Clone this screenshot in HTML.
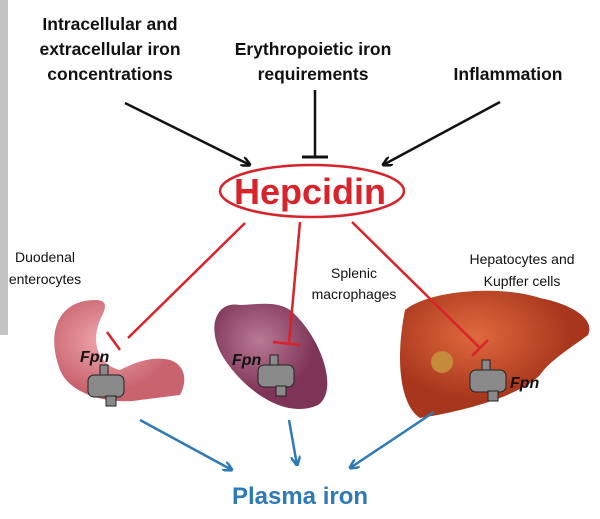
<!DOCTYPE html>
<html><head><style>
body{margin:0;background:#fff;}
svg{display:block;font-family:"Liberation Sans",Arial,sans-serif;}
</style></head><body>
<svg width="600" height="519" viewBox="0 0 600 519">
<defs>
<marker id="ab" markerWidth="10" markerHeight="10" refX="9" refY="5" orient="auto" markerUnits="userSpaceOnUse"><path d="M0,0 L10,5 L0,10" fill="none" stroke="#111" stroke-width="2.5"/></marker>
<marker id="ablue" markerWidth="10" markerHeight="10" refX="9" refY="5" orient="auto" markerUnits="userSpaceOnUse"><path d="M0,0 L10,5 L0,10" fill="none" stroke="#2f7ab5" stroke-width="2.5"/></marker>
<radialGradient id="gi" cx="40%" cy="40%"><stop offset="0" stop-color="#f1a9b0"/><stop offset="1" stop-color="#c9646f"/></radialGradient>
<radialGradient id="gs" cx="40%" cy="35%"><stop offset="0" stop-color="#b97a95"/><stop offset="1" stop-color="#7e3457"/></radialGradient>
<radialGradient id="gl" cx="40%" cy="35%"><stop offset="0" stop-color="#e06a3e"/><stop offset="1" stop-color="#a8361c"/></radialGradient>
</defs>
<rect x="0" y="0" width="8" height="335" fill="#c4c4c4"/>
<g font-weight="bold" font-size="17.5" fill="#111" text-anchor="middle">
<text x="110" y="30">Intracellular and</text>
<text x="110" y="55">extracellular iron</text>
<text x="110" y="80">concentrations</text>
<text x="313" y="55">Erythropoietic iron</text>
<text x="313" y="80">requirements</text>
<text x="508" y="80">Inflammation</text>
</g>
<line x1="125" y1="103" x2="250" y2="165" stroke="#111" stroke-width="2.5" marker-end="url(#ab)"/>
<line x1="315" y1="90" x2="315" y2="157" stroke="#111" stroke-width="2.5"/>
<line x1="302" y1="157" x2="328" y2="157" stroke="#111" stroke-width="3"/>
<line x1="500" y1="102" x2="383" y2="165" stroke="#111" stroke-width="2.5" marker-end="url(#ab)"/>
<ellipse cx="312" cy="191" rx="92" ry="26" fill="none" stroke="#d8232a" stroke-width="2.5"/>
<text x="310" y="204" font-size="36" font-weight="bold" fill="#d8232a" text-anchor="middle">Hepcidin</text>
<!-- organs -->
<path d="M95,300 C60,300 45,330 60,370 C70,395 110,405 140,400 L180,395 C188,380 185,365 170,360 C150,355 130,365 120,370 C100,365 90,345 100,320 C105,310 110,300 95,300Z" fill="url(#gi)"/>
<path d="M240,305 C215,300 205,330 225,360 C245,390 285,420 318,405 C340,390 320,335 290,310 C275,300 255,305 240,305Z" fill="url(#gs)"/>
<path d="M405,310 C430,290 500,285 540,298 C575,305 595,320 588,335 C575,345 550,360 540,375 C520,395 470,410 420,418 C400,405 395,360 405,310Z" fill="url(#gl)"/>
<circle cx="442" cy="362" r="11" fill="#c58a3a"/>
<!-- faucets -->
<g fill="#8a8a8a" stroke="#222" stroke-width="1">
<rect x="88" y="375" width="36" height="22" rx="6"/><rect x="100" y="365" width="8" height="10"/><rect x="106" y="396" width="10" height="10"/>
<rect x="258" y="365" width="36" height="22" rx="6"/><rect x="270" y="355" width="8" height="10"/><rect x="276" y="386" width="10" height="10"/>
<rect x="470" y="370" width="36" height="22" rx="6"/><rect x="482" y="360" width="8" height="10"/><rect x="488" y="391" width="10" height="10"/>
</g>
<g font-weight="bold" font-style="italic" font-size="16" fill="#111">
<text x="80" y="362">Fpn</text>
<text x="232" y="365">Fpn</text>
<text x="510" y="388">Fpn</text>
</g>
<!-- red inhibition -->
<g stroke="#d8232a" stroke-width="2.5">
<line x1="245" y1="223" x2="128" y2="338"/><line x1="107" y1="332" x2="120" y2="350"/>
<line x1="300" y1="222" x2="289" y2="343"/><line x1="273" y1="342" x2="300" y2="345"/>
<line x1="352" y1="222" x2="480" y2="348"/><line x1="472" y1="356" x2="488" y2="340"/>
</g>
<g font-size="14" fill="#111" text-anchor="middle">
<text x="45" y="262">Duodenal</text>
<text x="45" y="284">enterocytes</text>
<text x="354" y="278">Splenic</text>
<text x="354" y="299">macrophages</text>
<text x="522" y="264">Hepatocytes and</text>
<text x="522" y="286">Kupffer cells</text>
</g>
<g stroke="#2f7ab5" stroke-width="2.5">
<line x1="140" y1="420" x2="232" y2="470" marker-end="url(#ablue)"/>
<line x1="289" y1="420" x2="297" y2="465" marker-end="url(#ablue)"/>
<line x1="434" y1="412" x2="350" y2="468" marker-end="url(#ablue)"/>
</g>
<text x="300" y="504" font-size="24" font-weight="bold" fill="#2f7ab5" text-anchor="middle">Plasma iron</text>
</svg>
</body></html>
